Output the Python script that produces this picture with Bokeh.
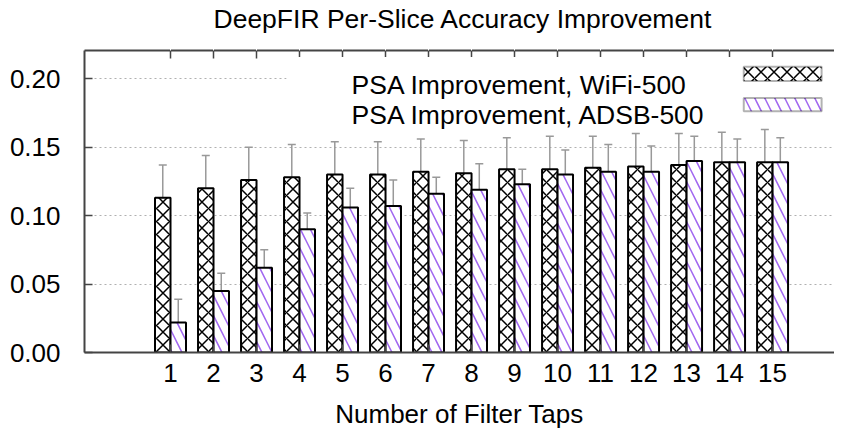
import pandas as pd
from bokeh.plotting import figure
from bokeh.models import (ColumnDataSource, Range1d, LinearAxis, FixedTicker,
                          NumeralTickFormatter, Whisker, TeeHead, BoxAnnotation, Label)
from bokeh.embed import file_html
from bokeh.resources import INLINE

# ---------------- data ----------------
taps = list(range(1, 16))
tick_labels = [str(t) for t in taps]
wifi = [0.113, 0.120, 0.126, 0.128, 0.130, 0.130, 0.132, 0.131, 0.134, 0.134,
        0.135, 0.136, 0.137, 0.139, 0.139]
wifi_err = [0.024, 0.024, 0.024, 0.024, 0.024, 0.024, 0.024, 0.024, 0.023, 0.024,
            0.023, 0.024, 0.023, 0.022, 0.024]
adsb = [0.022, 0.045, 0.062, 0.090, 0.106, 0.107, 0.116, 0.119, 0.123, 0.130,
        0.132, 0.132, 0.140, 0.139, 0.139]
adsb_err = [0.017, 0.013, 0.013, 0.012, 0.014, 0.019, 0.012, 0.019, 0.011, 0.018,
            0.020, 0.019, 0.018, 0.017, 0.018]
series_names = ["PSA Improvement, WiFi-500", "PSA Improvement, ADSB-500"]
y_ticks = [0.0, 0.05, 0.10, 0.15, 0.20]
title_text = "DeepFIR Per-Slice Accuracy Improvement"
x_title = "Number of Filter Taps"

FONT = "Liberation Sans"
FS = "26px"
FS_BIG = "26.5px"
AX = "#444444"
PURPLE = "#a066f0"
BAR_W = 0.36
OFF = 0.18
X_LO, X_HI = -1.0, 16.44

df = pd.DataFrame({"x": taps, "wifi": wifi, "wifi_err": wifi_err,
                   "adsb": adsb, "adsb_err": adsb_err})
df["x_w"] = df["x"] - OFF
df["x_a"] = df["x"] + OFF
df["wifi_lo"] = df["wifi"] - df["wifi_err"]
df["wifi_hi"] = df["wifi"] + df["wifi_err"]
df["adsb_lo"] = df["adsb"] - df["adsb_err"]
df["adsb_hi"] = df["adsb"] + df["adsb_err"]
src = ColumnDataSource(df)

p = figure(width=834, height=431, output_backend="svg", toolbar_location=None,
           x_range=Range1d(X_LO, X_HI), y_range=Range1d(0, 0.2207),
           min_border_left=84, min_border_right=0, min_border_top=0, min_border_bottom=0)
p.outline_line_color = None
p.background_fill_color = "white"
p.border_fill_color = "white"

# title
p.title.text = title_text
p.title.align = "left"
p.title.offset = 129
p.title.vertical_align = "top"
p.title.text_font = FONT
p.title.text_font_size = FS_BIG
p.title.text_font_style = "normal"
p.title.text_color = "black"
p.title.standoff = 6

# grid
p.xgrid.visible = False
p.ygrid.ticker = FixedTicker(ticks=y_ticks[1:])
p.ygrid.grid_line_color = "#b0b0b0"
p.ygrid.grid_line_dash = "2 3"
p.ygrid.grid_line_width = 1

# bars
p.vbar(x="x_w", top="wifi", bottom=0, width=BAR_W, source=src,
       fill_color="white", line_color="black", line_width=2,
       hatch_pattern="diagonal_cross", hatch_color="black", hatch_scale=13, hatch_weight=1.5)
p.vbar(x="x_a", top="adsb", bottom=0, width=BAR_W, source=src,
       fill_color="white", line_color="black", line_width=2,
       hatch_pattern="left_diagonal_line", hatch_color=PURPLE, hatch_scale=20, hatch_weight=1.5)

# error bars
for base, lo, hi in (("x_w", "wifi_lo", "wifi_hi"), ("x_a", "adsb_lo", "adsb_hi")):
    w = Whisker(source=src, base=base, lower=lo, upper=hi,
                line_color="#999999", line_width=1.5,
                upper_head=TeeHead(size=8, line_color="#999999", line_width=1.5),
                lower_head=TeeHead(size=8, line_color="#999999", line_width=1.5))
    p.add_layout(w)

# axes
xa = p.xaxis[0]
xa.ticker = FixedTicker(ticks=taps)
xa.major_label_overrides = {t: l for t, l in zip(taps, tick_labels)}
xa.axis_label = x_title
ya = p.yaxis[0]
ya.ticker = FixedTicker(ticks=y_ticks)
ya.formatter = NumeralTickFormatter(format="0.00")
for ax in (xa, ya):
    ax.major_label_text_font = FONT
    ax.major_label_text_font_size = FS
    ax.major_label_text_color = "black"
    ax.axis_label_text_font = FONT
    ax.axis_label_text_font_size = FS
    ax.axis_label_text_font_style = "normal"
    ax.axis_label_text_color = "black"
    ax.axis_line_color = AX
    ax.axis_line_width = 2
    ax.major_tick_line_color = AX
    ax.major_tick_line_width = 1.5
    ax.major_tick_in = 8
    ax.major_tick_out = 0
    ax.minor_tick_line_color = None
xa.major_label_standoff = 11
xa.axis_label_standoff = 14
ya.major_label_standoff = 24

# mirrored top border with inward ticks, no labels
top = LinearAxis(ticker=FixedTicker(ticks=taps),
                 major_label_overrides={t: "" for t in taps},
                 major_label_text_font_size="1px",
                 major_label_standoff=0, major_tick_in=8, major_tick_out=0,
                 minor_tick_line_color=None, axis_line_color=AX, axis_line_width=2,
                 major_tick_line_color=AX, major_tick_line_width=1.5)
p.add_layout(top, "above")
# blank band between the top border and the title (white ticks on white)
spacer = LinearAxis(ticker=FixedTicker(ticks=taps),
                    major_label_overrides={t: "" for t in taps},
                    major_label_text_font_size="1px", major_label_standoff=0,
                    major_tick_in=0, major_tick_out=12,
                    axis_line_color=None, major_tick_line_color="white",
                    minor_tick_line_color=None)
p.add_layout(spacer, "above")

# legend (text on the left, swatch on the right, as in the original)
p.add_layout(BoxAnnotation(left=3.70, right=X_HI, bottom=0.168, top=0.216,
                           fill_color="white", fill_alpha=1.0, line_color=None))
p.add_layout(BoxAnnotation(left=14.33, right=16.14, bottom=0.1985, top=0.2089,
                           fill_color="white", fill_alpha=1.0, line_color="black", line_width=2,
                           hatch_pattern="diagonal_cross", hatch_color="black",
                           hatch_scale=13, hatch_weight=1.5))
p.add_layout(BoxAnnotation(left=14.33, right=16.14, bottom=0.1763, top=0.1859,
                           fill_color="white", fill_alpha=1.0, line_color="black", line_width=2,
                           hatch_pattern="left_diagonal_line", hatch_color=PURPLE,
                           hatch_scale=20, hatch_weight=1.5))
for name, yb in zip(series_names, (0.1956, 0.1733)):
    p.add_layout(Label(x=5.21, y=yb, text=name, text_font=FONT, text_font_size=FS_BIG,
                       text_color="black", text_baseline="alphabetic"))

open("out.html", "w").write(file_html(p, INLINE))
